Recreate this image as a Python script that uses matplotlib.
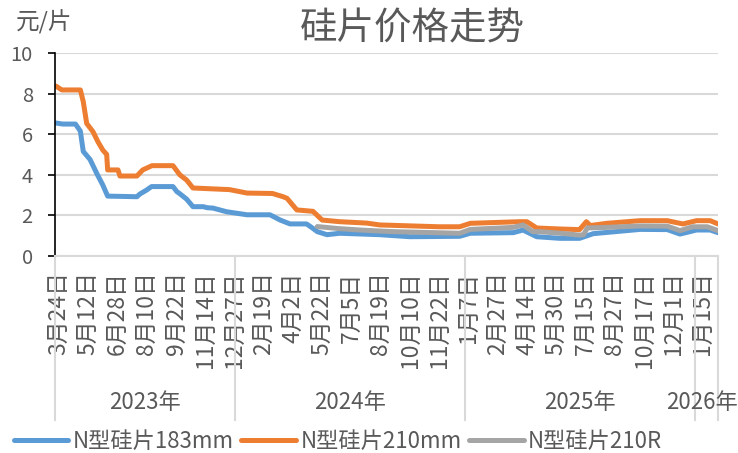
import matplotlib
matplotlib.use("Agg")
import matplotlib.pyplot as plt

plt.rcParams['font.family'] = ['Noto Sans CJK SC', 'DejaVu Sans']

# x is the trading-day index of the category axis
tick_pos = [3 + 30 * k for k in range(23)]
tick_labels = ['3月24日', '5月12日', '6月28日', '8月10日', '9月22日', '11月14日',
               '12月27日', '2月19日', '4月2日', '5月22日', '7月5日', '8月19日',
               '10月10日', '11月22日', '1月7日', '2月27日', '4月14日', '5月30日',
               '7月15日', '8月27日', '10月17日', '12月1日', '1月15日']
year_edges = [-1, 183.5, 419.5, 655.5, 679]
year_labels = ['2023年', '2024年', '2025年', '2026年']

x_183 = [0, 7, 20, 25, 28, 35, 42, 48, 53, 83, 86, 93, 98, 120, 124, 127, 134, 140.5,
         151, 155, 161, 175, 196, 219.5, 230, 240, 257, 263, 268, 278, 291, 332, 363,
         414, 425, 469, 479, 493, 517, 537, 551, 599, 627, 640, 657, 671, 679]
y_183 = [6.55, 6.5, 6.5, 6.15, 5.15, 4.75, 4.05, 3.5, 2.95, 2.92, 3.05, 3.25, 3.42, 3.42,
         3.17, 3.07, 2.8, 2.43, 2.43, 2.38, 2.36, 2.18, 2.03, 2.03, 1.77, 1.58, 1.58, 1.38,
         1.2, 1.05, 1.12, 1.05, 0.95, 0.97, 1.12, 1.15, 1.28, 0.95, 0.87, 0.87, 1.1, 1.31,
         1.3, 1.08, 1.28, 1.28, 1.15]

x_210 = [0, 6, 25, 28, 31.5, 38, 43, 48, 52, 53, 63.6, 65.6, 83, 89, 98.5, 120, 127, 134,
         140.5, 178, 196, 222, 233, 237, 247, 263.6, 273, 291, 319, 332, 393, 414, 425, 476,
         483, 493, 517, 537, 544, 548, 565, 599, 627, 643, 657, 671, 679]
y_210 = [8.37, 8.18, 8.18, 7.6, 6.53, 6.12, 5.63, 5.22, 5.0, 4.24, 4.24, 3.94, 3.94, 4.24,
         4.45, 4.45, 4.0, 3.74, 3.35, 3.27, 3.1, 3.08, 2.92, 2.84, 2.27, 2.2, 1.77, 1.69, 1.62,
         1.53, 1.44, 1.44, 1.61, 1.69, 1.69, 1.38, 1.33, 1.3, 1.69, 1.5, 1.61, 1.74, 1.74,
         1.58, 1.74, 1.74, 1.58]

x_210r = [268, 290, 312, 332, 346, 414, 425, 469, 479, 489, 496, 517, 537, 541, 545, 565,
          599, 627, 640, 653, 668, 679]
y_210r = [1.45, 1.35, 1.28, 1.23, 1.2, 1.12, 1.31, 1.41, 1.53, 1.2, 1.2, 1.12, 1.03, 1.05,
          1.38, 1.41, 1.48, 1.47, 1.25, 1.44, 1.44, 1.25]

text_c = '#595959'
grid_c = '#D9D9D9'

fig = plt.figure(figsize=(7.38, 4.53), dpi=100)
ax = fig.add_axes([55 / 738, 1 - 256 / 453, 663 / 738, 203 / 453])

kw = dict(lw=3.6, solid_capstyle='round', solid_joinstyle='round')
ax.plot(x_183, y_183, color='#5B9BD5', label='N型硅片183mm', **kw)
ax.plot(x_210, y_210, color='#ED7D31', label='N型硅片210mm', **kw)
ax.plot(x_210r, y_210r, color='#A5A5A5', label='N型硅片210R', **kw)

ax.set_xlim(-1, 679)
ax.set_ylim(0, 10)
ax.set_yticks([0, 2, 4, 6, 8, 10])
ax.yaxis.grid(True, color=grid_c, lw=1.5)
ax.set_axisbelow(True)
for s in ['top', 'right']:
    ax.spines[s].set_visible(False)
ax.spines['left'].set_color('black')
ax.spines['left'].set_linewidth(1.2)
ax.spines['bottom'].set_color(grid_c)
ax.spines['bottom'].set_linewidth(1.5)
ax.tick_params(axis='y', length=5, width=1.2, color='black', labelsize=14.5,
               labelcolor=text_c, pad=11)
ax.set_xticks(tick_pos)
ax.set_xticklabels(tick_labels, rotation=90, fontsize=16.5, color=text_c)
ax.tick_params(axis='x', length=0, pad=11)

# year group separators and labels under the date labels
tr = ax.get_xaxis_transform()
for xe in year_edges:
    ax.plot([xe, xe], [0, -0.81], transform=tr, color=grid_c, lw=1.5, clip_on=False)
for i, lab in enumerate(year_labels):
    xc = (year_edges[i] + year_edges[i + 1]) / 2
    xc = min(xc, 663)  # last group is narrow, keep its label inside the picture
    ax.text(xc, -0.72, lab, transform=tr, ha='center', va='center',
            fontsize=16, color=text_c, clip_on=False)

fig.text(412 / 738, 1 - 29 / 453, '硅片价格走势', ha='center', va='center',
         fontsize=27, color=text_c)
fig.text(16 / 738, 1 - 22 / 453, '元/片', ha='left', va='center', fontsize=17,
         color=text_c)

fig.legend(loc='center', bbox_to_anchor=(338 / 738, 1 - 441 / 453), ncol=3,
           frameon=False, fontsize=16, handlelength=2.45, handletextpad=0.2,
           columnspacing=0.35, labelcolor=text_c)

fig.savefig('out.png', dpi=100)
